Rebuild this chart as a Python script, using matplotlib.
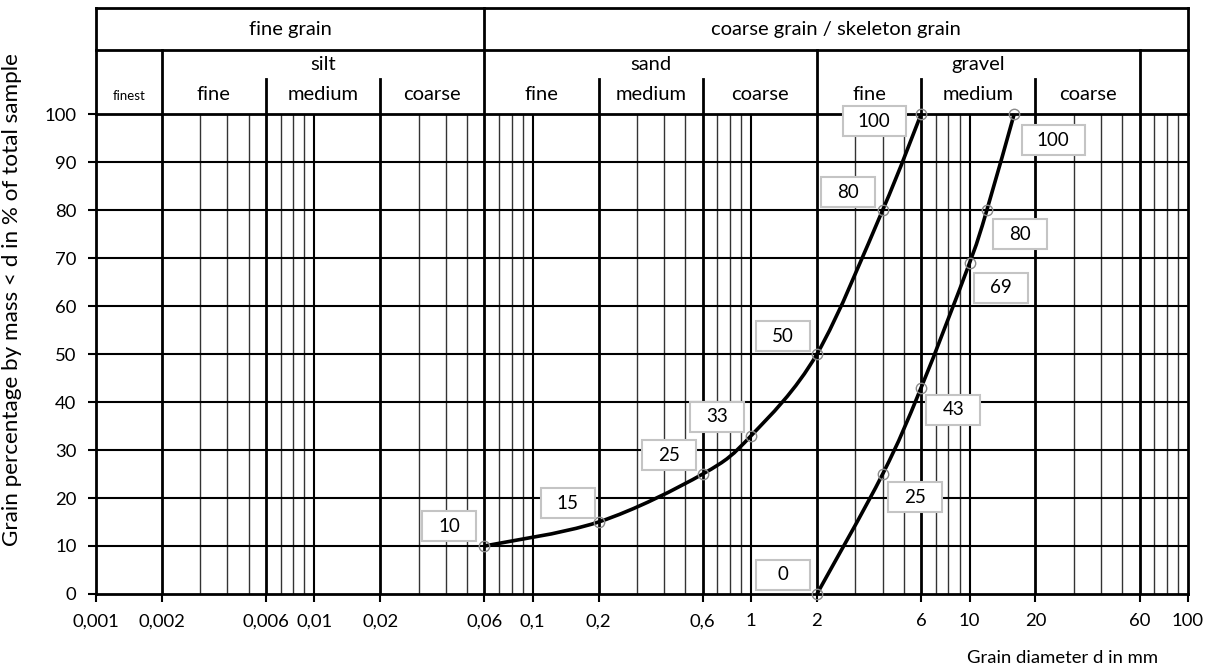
import numpy as np
import matplotlib
matplotlib.use('Agg')
import matplotlib.pyplot as plt
from matplotlib.path import Path
from matplotlib.patches import PathPatch, Rectangle
import matplotlib.transforms as mtransforms

plt.rcParams['font.family'] = ['Lato', 'DejaVu Sans']

# ---------------- data ----------------
curve1_d = [0.06, 0.2, 0.6, 1, 2, 4, 6]
curve1_p = [10, 15, 25, 33, 50, 80, 100]
curve2_d = [2, 4, 6, 10, 12, 16]
curve2_p = [0, 25, 43, 69, 80, 100]

x_ticks = [0.001, 0.002, 0.006, 0.01, 0.02, 0.06, 0.1, 0.2, 0.6, 1, 2, 6, 10, 20, 60, 100]
x_tick_labels = ['0,001', '0,002', '0,006', '0,01', '0,02', '0,06', '0,1', '0,2',
                 '0,6', '1', '2', '6', '10', '20', '60', '100']
y_ticks = list(range(0, 101, 10))

class_bounds = [0.002, 0.006, 0.02, 0.06, 0.2, 0.6, 2, 6, 20, 60]
decade_lines = [0.01, 0.1, 1, 10]
minor_lines = [0.003, 0.004, 0.005, 0.007, 0.008, 0.009, 0.03, 0.04, 0.05,
               0.07, 0.08, 0.09, 0.3, 0.4, 0.5, 0.7, 0.8, 0.9, 3, 4, 5,
               7, 8, 9, 30, 40, 50, 70, 80, 90]

main_groups = [('fine grain', 0.001, 0.06), ('coarse grain / skeleton grain', 0.06, 100)]
sub_groups = [('silt', 0.002, 0.06), ('sand', 0.06, 2), ('gravel', 2, 60)]
sub_classes = [('fine', 0.002, 0.006), ('medium', 0.006, 0.02), ('coarse', 0.02, 0.06),
               ('fine', 0.06, 0.2), ('medium', 0.2, 0.6), ('coarse', 0.6, 2),
               ('fine', 2, 6), ('medium', 6, 20), ('coarse', 20, 60)]
finest_label = ('finest', 0.001, 0.002)

# label offsets in pixels (dx, dy up)
curve1_offsets = [(-35, 20), (-31, 19), (-34, 19), (-34, 19), (-34, 18), (-35, 18), (-47, -7)]
curve2_offsets = [(-34, 19), (32, -23), (32, -22), (31, -25), (33, -24), (39, -26)]

W, H = 1213, 670
fig = plt.figure(figsize=(W / 100, H / 100), dpi=100)
L, R, T, B = 96, 1188, 114, 594
ax = fig.add_axes([L / W, 1 - B / H, (R - L) / W, (B - T) / H])
ax.set_xscale('log')
ax.set_xlim(0.001, 100)
ax.set_ylim(0, 100)

def ya(pix):
    return (B - pix) / (B - T)

# grid
for v in minor_lines:
    ax.axvline(v, color='#333333', lw=1.0, zorder=1)
for v in decade_lines:
    ax.axvline(v, color='black', lw=1.5, zorder=1)
for v in class_bounds:
    ax.axvline(v, color='black', lw=2.0, zorder=1)
for v in y_ticks[1:-1]:
    ax.axhline(v, color='black', lw=1.5, zorder=1)

for s in ax.spines.values():
    s.set_linewidth(2.0)

ax.set_xticks(x_ticks)
ax.set_xticklabels(x_tick_labels)
ax.xaxis.set_minor_locator(matplotlib.ticker.NullLocator())
ax.set_yticks(y_ticks)
ax.set_yticklabels([str(v) for v in y_ticks])
ax.tick_params(axis='both', direction='out', length=6, width=1.5, color='black',
               labelsize=13.3)
ax.tick_params(axis='y', pad=8)
ax.tick_params(axis='x', pad=8)

# header
tr = ax.get_xaxis_transform()
hl = dict(color='black', lw=2.0, transform=tr, clip_on=False)
y_top, y_div, y_sub = ya(8), ya(50), ya(79)
ax.plot([0.001, 100], [y_top, y_top], **hl)
ax.plot([0.001, 100], [y_div, y_div], **hl)
ax.plot([0.001, 0.001], [1, y_top], **hl)
ax.plot([100, 100], [1, y_top], **hl)
ax.plot([0.06, 0.06], [1, y_top], **hl)
for v in [0.002, 2, 60]:
    ax.plot([v, v], [1, y_div], **hl)
for v in [0.006, 0.02, 0.2, 0.6, 6, 20]:
    ax.plot([v, v], [1, y_sub], **hl)

def gm(a, b):
    return 10 ** ((np.log10(a) + np.log10(b)) / 2)

HFS = 14.5
for name, a, b in main_groups:
    ax.text(gm(a, b), ya(29), name, transform=tr, ha='center', va='center', fontsize=HFS)
for name, a, b in sub_groups:
    ax.text(gm(a, b), ya(64), name, transform=tr, ha='center', va='center', fontsize=HFS)
for name, a, b in sub_classes:
    ax.text(gm(a, b), ya(94), name, transform=tr, ha='center', va='center', fontsize=HFS)
ax.text(gm(finest_label[1], finest_label[2]), ya(96), finest_label[0], transform=tr,
        ha='center', va='center', fontsize=9.5)

# smooth curves
def smooth_path(xs, ys):
    P = np.column_stack([np.log10(xs), ys]).astype(float)
    n = len(P)
    verts = [P[0]]
    codes = [Path.MOVETO]
    for i in range(n - 1):
        p0 = P[i - 1] if i > 0 else P[i]
        p1, p2 = P[i], P[i + 1]
        p3 = P[i + 2] if i + 2 < n else P[i + 1]
        c1 = p1 + (p2 - p0) / 6
        c2 = p2 - (p3 - p1) / 6
        verts += [c1, c2, p2]
        codes += [Path.CURVE4] * 3
    V = np.array(verts)
    V[:, 0] = 10 ** V[:, 0]
    return Path(V, codes)

for xs, ys in [(curve1_d, curve1_p), (curve2_d, curve2_p)]:
    ax.add_patch(PathPatch(smooth_path(xs, ys), fill=False, edgecolor='black', lw=2.6,
                           zorder=3, clip_on=False))
    ax.plot(xs, ys, ls='none', marker='o', ms=7.5, mfc='none', mec='#8a8a8a', mew=1.0,
            zorder=4, clip_on=False)

# labels
fig.canvas.draw()
ident = mtransforms.IdentityTransform()
for xs, ys, offs in [(curve1_d, curve1_p, curve1_offsets), (curve2_d, curve2_p, curve2_offsets)]:
    for x, y, (dx, dy) in zip(xs, ys, offs):
        px, py = ax.transData.transform((x, y))
        cx, cy = px + dx, py + dy
        txt = str(y)
        bw = 63 if len(txt) >= 3 else 54
        bh = 30
        fig.add_artist(Rectangle((cx - bw / 2, cy - bh / 2), bw, bh, transform=ident,
                                 facecolor='white', edgecolor='#c4c4c4', lw=1.5, zorder=5))
        fig.text(cx / W, cy / H, txt, ha='center', va='center', fontsize=13.5, zorder=6)

fig.text(12 / W, 1 - 300 / H, 'Grain percentage by mass < d in % of total sample',
         rotation=90, ha='center', va='center', fontsize=16.2)
fig.text(1158 / W, 1 - 658 / H, 'Grain diameter d in mm', ha='right', va='center', fontsize=13.3)

fig.savefig('out.png', dpi=100, facecolor='white')
